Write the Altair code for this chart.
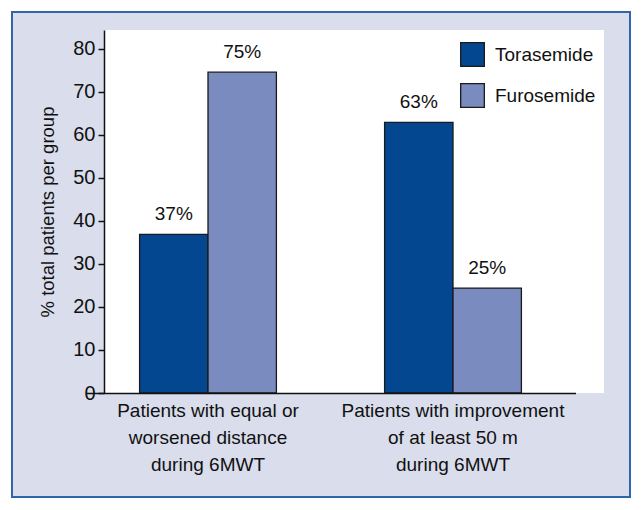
import altair as alt
import pandas as pd

categories = ["Patients with equal or|worsened distance|during 6MWT",
              "Patients with improvement|of at least 50 m|during 6MWT"]
drugs = ["Torasemide", "Furosemide"]
torasemide = [36.9, 62.9]
furosemide = [74.6, 24.4]
tor_labels = ["37%", "63%"]
fur_labels = ["75%", "25%"]
colors = ["#02478f", "#7a8bbf"]
y_ticks = [0, 10, 20, 30, 40, 50, 60, 70, 80]

rows = []
for i, c in enumerate(categories):
    rows.append({"category": c, "drug": drugs[0], "value": torasemide[i], "label": tor_labels[i]})
    rows.append({"category": c, "drug": drugs[1], "value": furosemide[i], "label": fur_labels[i]})
df = pd.DataFrame(rows)

FONT = "Liberation Sans, Arial, sans-serif"
W, H = 500, 363

xscale = alt.Scale(domain=categories, range=[-18.5, 471.5], paddingInner=0.4416, paddingOuter=0.2208)
yscale = alt.Scale(domain=[0, 84.4], nice=False, zero=True)

frame = alt.Chart(alt.Data(values=[{}])).mark_rect(
    fill="#d9ddec", stroke="#2f66ab", strokeWidth=2
).encode(x=alt.value(-92), x2=alt.value(526), y=alt.value(-18), y2=alt.value(467))

panel = alt.Chart(alt.Data(values=[{}])).mark_rect(fill="white").encode(
    x=alt.value(0), x2=alt.value(W), y=alt.value(0), y2=alt.value(H))

base = alt.Chart(df)

bars = base.mark_bar(stroke="#1a1a1a", strokeWidth=1.3).encode(
    x=alt.X("category:N", scale=xscale, sort=categories, title=None,
            axis=alt.Axis(labelExpr="split(datum.label, '|')", labelFontSize=19, labelFont=FONT,
                          labelLineHeight=27, labelPadding=8, labelColor="#111", labelAngle=0,
                          labelLimit=0, ticks=False, domainColor="#111", domainWidth=1.5,
                          labelBaseline="top", zindex=1)),
    xOffset=alt.XOffset("drug:N", sort=drugs, scale=alt.Scale(domain=drugs, paddingInner=0, paddingOuter=0)),
    y=alt.Y("value:Q", scale=yscale,
            axis=alt.Axis(title="% total patients per group", values=y_ticks, grid=False,
                          labelFontSize=20, labelFont=FONT, labelColor="#111", labelPadding=3,
                          tickSize=6, tickColor="#111", tickWidth=1.5, domainColor="#111",
                          domainWidth=1.5, titleFont=FONT, titleFontSize=18.5, titleFontWeight="normal",
                          titleColor="#111", titleX=-47, titleY=H / 2, titleAngle=270, zindex=1)),
    color=alt.Color("drug:N", scale=alt.Scale(domain=drugs, range=colors),
                    legend=alt.Legend(title=None, orient="none", legendX=356, legendY=12,
                                      symbolType="square", symbolSize=560, symbolStrokeColor="#1a1a1a",
                                      symbolStrokeWidth=1.3, labelFont=FONT, labelFontSize=19,
                                      labelColor="#111", labelOffset=10, rowPadding=12, padding=0,
                                      symbolOpacity=1, zindex=1)),
)

texts = base.mark_text(font=FONT, fontSize=19, color="#111", baseline="alphabetic", dy=-14).encode(
    x=alt.X("category:N", scale=xscale, sort=categories),
    xOffset=alt.XOffset("drug:N", sort=drugs, scale=alt.Scale(domain=drugs, paddingInner=0, paddingOuter=0)),
    y=alt.Y("value:Q", scale=yscale),
    text="label:N",
)

chart = alt.layer(frame, panel, bars, texts).properties(
    width=W, height=H,
    autosize=alt.AutoSizeParams(type="none"),
    padding={"left": 96, "top": 22, "right": 30, "bottom": 110},
    background="white",
).configure_view(strokeWidth=0)

chart.save("out.html", embed_options={"renderer": "svg", "actions": False})
